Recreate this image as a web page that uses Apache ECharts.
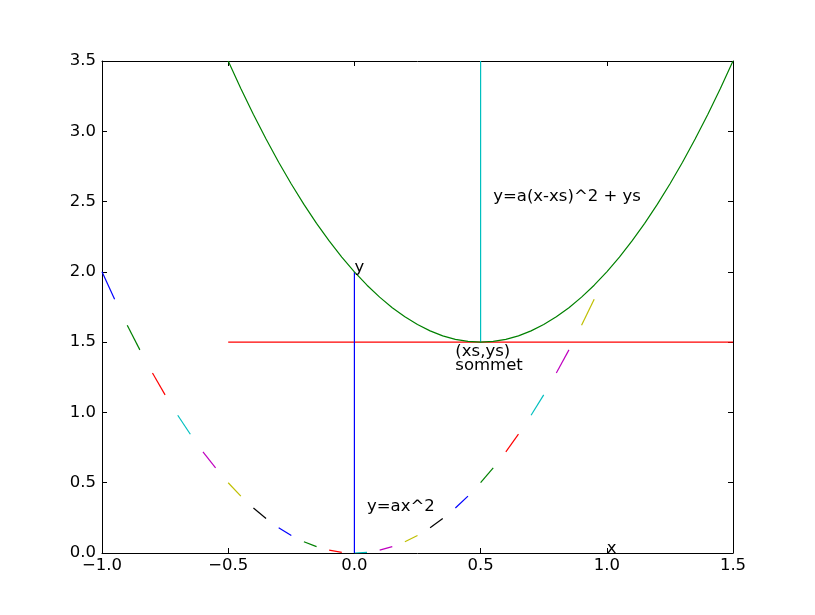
<!DOCTYPE html>
<html>
<head>
<meta charset="utf-8">
<script src="https://cdn.jsdelivr.net/npm/echarts@6/dist/echarts.min.js"></script>
<style>
html,body{margin:0;padding:0;background:#fff;}
#c{width:815px;height:615px;}
</style>
</head>
<body>
<div id="c"></div>
<script>
// Dashed parabola y = a x^2: short segments [x0, x1] and their y values
var segX0 = [-1.0, -0.9, -0.8, -0.7, -0.6, -0.5, -0.4, -0.3, -0.2, -0.1, 0.0, 0.1, 0.2, 0.3, 0.4, 0.5, 0.6, 0.7, 0.8, 0.9];
var segX1 = [-0.95, -0.85, -0.75, -0.65, -0.55, -0.45, -0.35, -0.25, -0.15, -0.05, 0.05, 0.15, 0.25, 0.35, 0.45, 0.55, 0.65, 0.75, 0.85, 0.95];
var segY0 = [2.0, 1.62, 1.28, 0.98, 0.72, 0.5, 0.32, 0.18, 0.08, 0.02, 0.0, 0.02, 0.08, 0.18, 0.32, 0.5, 0.72, 0.98, 1.28, 1.62];
var segY1 = [1.805, 1.445, 1.125, 0.845, 0.605, 0.405, 0.245, 0.125, 0.045, 0.005, 0.005, 0.045, 0.125, 0.245, 0.405, 0.605, 0.845, 1.125, 1.445, 1.805];
var segColors = ['#0000ff', '#008000', '#ff0000', '#00bfbf', '#bf00bf', '#bfbf00', '#000000'];

// Shifted parabola y = a(x-xs)^2 + ys
var parX = [-0.5, -0.45, -0.4, -0.35, -0.3, -0.25, -0.2, -0.15, -0.1, -0.05, 0.0, 0.05, 0.1, 0.15, 0.2, 0.25, 0.3, 0.35, 0.4, 0.45, 0.5,
            0.55, 0.6, 0.65, 0.7, 0.75, 0.8, 0.85, 0.9, 0.95, 1.0, 1.05, 1.1, 1.15, 1.2, 1.25, 1.3, 1.35, 1.4, 1.45, 1.5];
var parY = [3.5, 3.305, 3.12, 2.945, 2.78, 2.625, 2.48, 2.345, 2.22, 2.105, 2.0, 1.905, 1.82, 1.745, 1.68, 1.625, 1.58, 1.545, 1.52, 1.505, 1.5,
            1.505, 1.52, 1.545, 1.58, 1.625, 1.68, 1.745, 1.82, 1.905, 2.0, 2.105, 2.22, 2.345, 2.48, 2.625, 2.78, 2.945, 3.12, 3.305, 3.5];

// Straight guide lines
var hLineX = [-0.5, 1.5], hLineY = [1.5, 1.5];     // red horizontal
var vLine1X = [0.5, 0.5], vLine1Y = [1.5, 3.5];    // cyan vertical
var vLine2X = [0.0, 0.0], vLine2Y = [0.0, 2.0];    // blue vertical

// Annotations
var noteText = ['y', 'x', 'y=ax^2', 'y=a(x-xs)^2 + ys', '(xs,ys)', 'sommet'];
var noteX = [0.0, 1.0, 0.05, 0.55, 0.4, 0.4];
var noteY = [2.0, 0.0, 0.3, 2.5, 1.4, 1.3];

// Axis ticks
var xMin = -1.0, xMax = 1.5, xStep = 0.5;
var yMin = 0.0, yMax = 3.5, yStep = 0.5;

var FONT = 'DejaVu Sans';
var FS = 16.5;
var LW = 1.2;

function fmt(v) {
  return (v < 0 ? '\u2212' : '') + Math.abs(v).toFixed(1);
}
function pts(xs, ys) {
  return xs.map(function (x, i) { return [x, ys[i]]; });
}
function lineSeries(data, color) {
  return {
    type: 'line', data: data, showSymbol: false, symbol: 'none',
    lineStyle: { color: color, width: LW }, itemStyle: { color: color },
    animation: false, silent: true, z: 3
  };
}

var series = [];
for (var i = 0; i < segX0.length; i++) {
  series.push(lineSeries([[segX0[i], segY0[i]], [segX1[i], segY1[i]]], segColors[i % segColors.length]));
}
series.push(lineSeries(pts(hLineX, hLineY), '#ff0000'));
series.push(lineSeries(pts(vLine1X, vLine1Y), '#00bfbf'));
series.push(lineSeries(pts(vLine2X, vLine2Y), '#0000ff'));
series.push(lineSeries(pts(parX, parY), '#008000'));

series.push({
  type: 'scatter', symbolSize: 0, animation: false, silent: true, z: 5,
  itemStyle: { opacity: 1, color: '#000' },
  data: noteText.map(function (t, i) { return { value: [noteX[i], noteY[i]], name: t }; }),
  label: {
    show: true, position: [0, 0], offset: [0, 4],
    align: 'left', verticalAlign: 'bottom', opacity: 1,
    formatter: function (p) { return p.name; },
    color: '#000', fontFamily: FONT, fontSize: FS
  }
});

function xAxisDef(pos, showLabel) {
  return {
    type: 'value', position: pos, min: xMin, max: xMax, interval: xStep,
    axisLine: { show: true, onZero: false, lineStyle: { color: '#000', width: 1 } },
    axisTick: { show: true, inside: true, length: 5, lineStyle: { color: '#000' } },
    axisLabel: { show: showLabel, formatter: fmt, color: '#000', fontFamily: FONT, fontSize: FS, margin: 4 },
    splitLine: { show: false }
  };
}
function yAxisDef(pos, showLabel) {
  return {
    type: 'value', position: pos, min: yMin, max: yMax, interval: yStep,
    axisLine: { show: true, onZero: false, lineStyle: { color: '#000', width: 1 } },
    axisTick: { show: true, inside: true, length: 5, lineStyle: { color: '#000' } },
    axisLabel: { show: showLabel, formatter: fmt, color: '#000', fontFamily: FONT, fontSize: FS, margin: 6 },
    splitLine: { show: false }
  };
}

var chart = echarts.init(document.getElementById('c'), null, { renderer: 'canvas' });
chart.setOption({
  backgroundColor: '#ffffff',
  animation: false,
  grid: { left: 102, right: 82, top: 61, bottom: 62, containLabel: false },
  xAxis: [xAxisDef('bottom', true), xAxisDef('top', false)],
  yAxis: [yAxisDef('left', true), yAxisDef('right', false)],
  series: series
});
</script>
</body>
</html>
